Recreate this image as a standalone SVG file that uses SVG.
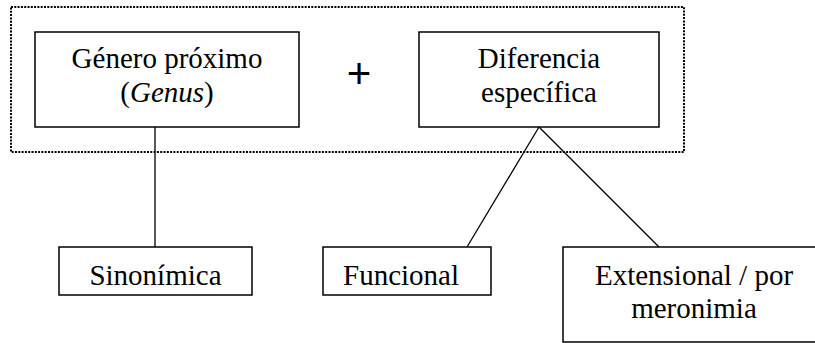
<svg xmlns="http://www.w3.org/2000/svg" width="815" height="343" viewBox="0 0 815 343">
<style>
.box{fill:#fff;stroke:#000;stroke-width:1.5}
.t{font-family:'Liberation Serif',serif;font-size:29px;fill:#000;text-anchor:middle}
.c{stroke:#000;stroke-width:1.3;fill:none}
</style>
<rect width="815" height="343" fill="#fff"/>
<g id="group-frame">
<rect x="11" y="7" width="673" height="145" fill="none" stroke="#000" stroke-width="2" stroke-dasharray="2 1.3"/>
</g>
<g id="connectors">
<line class="c" x1="155" y1="127" x2="155" y2="247"/>
<line class="c" x1="539" y1="127" x2="467" y2="247"/>
<line class="c" x1="539" y1="127" x2="659" y2="247"/>
</g>
<g id="node-genero">
<rect class="box" x="35" y="32" width="264" height="95"/>
<text class="t" x="167" y="68" font-family="DejaVu Serif">Género próximo</text>
<text class="t" x="167" y="102">(<tspan font-style="italic">Genus</tspan>)</text>
</g>
<g id="node-plus">
<text x="359" y="88" font-family="'Liberation Sans',Arial,sans-serif" font-size="42" text-anchor="middle">+</text>
</g>
<g id="node-diferencia">
<rect class="box" x="419" y="32" width="240" height="95"/>
<text class="t" x="539" y="68">Diferencia</text>
<text class="t" x="539" y="102">específica</text>
</g>
<g id="node-sinonimica">
<rect class="box" x="59" y="247" width="193" height="48"/>
<text class="t" x="155.5" y="285">Sinonímica</text>
</g>
<g id="node-funcional">
<rect class="box" x="323" y="247" width="168" height="48"/>
<text class="t" x="401" y="285">Funcional</text>
</g>
<g id="node-extensional">
<rect class="box" x="563" y="247" width="262" height="95"/>
<text class="t" x="694" y="285">Extensional / por</text>
<text class="t" x="694" y="318">meronimia</text>
</g>
</svg>
